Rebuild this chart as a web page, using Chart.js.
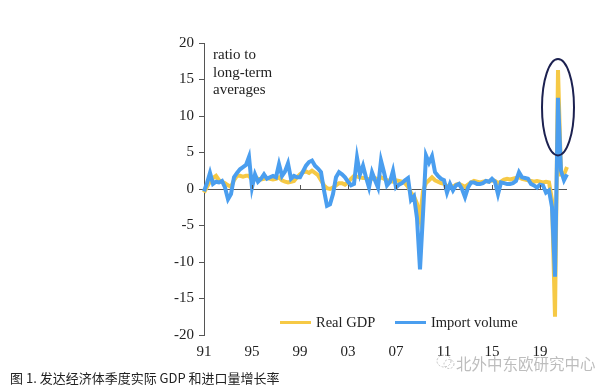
<!DOCTYPE html>
<html>
<head>
<meta charset="utf-8">
<script src="https://cdn.jsdelivr.net/npm/chart.js@4.4.1/dist/chart.umd.min.js"></script>
<style>
  body { margin: 0; background: #fff; }
  #wrap { position: relative; width: 612px; height: 391px; overflow: hidden; }
  canvas { position: absolute; left: 0; top: 0; }
  .serif { position: absolute; font-family: "Liberation Serif", "Times New Roman", serif; color: #222; }
  .swatch { position: absolute; height: 3px; }
</style>
</head>
<body>
<div id="wrap">
  <canvas id="chart" width="612" height="391"></canvas>

  <div class="serif" style="left:213px; top:46px; font-size:15px; line-height:17.5px;">ratio to<br>long-term<br>averages</div>

  <div class="swatch" style="left:280px; top:321px; width:31px; background:#F6C945;"></div>
  <div class="serif" style="left:316px; top:314px; font-size:14.5px;">Real GDP</div>
  <div class="swatch" style="left:395px; top:321px; width:31px; background:#4A9EEF;"></div>
  <div class="serif" style="left:431px; top:314px; font-size:14.5px;">Import volume</div>

  <div style="position:absolute; left:10px; top:368px; font-family:'Noto Sans CJK SC','Noto Sans',sans-serif; font-size:13px; color:#222;">图 1. 发达经济体季度实际 GDP 和进口量增长率</div>

  <svg style="position:absolute; left:436px; top:353px;" width="20" height="18">
    <ellipse cx="8" cy="8" rx="7" ry="6" fill="none" stroke="#c4c4c4" stroke-width="1" stroke-dasharray="2 1.5"/>
    <ellipse cx="13" cy="11" rx="5" ry="4.5" fill="none" stroke="#c4c4c4" stroke-width="1" stroke-dasharray="2 1.5"/>
  </svg>
  <div style="position:absolute; left:456px; top:352px; font-family:'Noto Sans CJK SC','Noto Sans',sans-serif; font-size:15.5px; color:#bdbdbd;">北外中东欧研究中心</div>
</div>

<script>
// quarterly, 1991Q1 .. 2021Q2
const YEARS = [1991, 1992, 1993, 1994, 1995, 1996, 1997, 1998, 1999, 2000, 2001, 2002, 2003, 2004, 2005,
               2006, 2007, 2008, 2009, 2010, 2011, 2012, 2013, 2014, 2015, 2016, 2017, 2018, 2019, 2020, 2021]
const QUARTERS = YEARS.flatMap(y => ["Q1", "Q2", "Q3", "Q4"].map(q => y + q)).slice(0, 122)

const realGdp = [
  -0.5, 0.3, 1.0, 1.5, 1.8, 1.2, 1.0, 0.8, 0.5, 0.3, 1.2, 1.8, 1.8, 1.7, 1.8, 1.8,
  1.3, 1.5, 1.4, 1.3, 1.4, 1.5, 1.4, 1.3, 1.4, 1.6, 1.2, 1.0, 0.9, 1.0, 1.1, 1.6,
  2.0, 2.3, 2.4, 2.2, 2.5, 2.2, 1.9, 1.2, 0.5, 0.1, 0.0, 0.2, 0.5, 0.8, 0.8, 0.6,
  0.9, 1.4, 1.8, 1.7, 1.6, 1.5, 1.5, 1.3, 1.4, 1.5, 1.3, 1.6, 1.4, 1.2, 1.1, 1.0,
  1.2, 1.1, 1.0, 0.8, 0.3, -0.5, -1.0, -2.0, -4.0, -0.3, 0.8, 1.2, 1.6, 1.2, 1.0, 0.8,
  0.7, 0.4, 0.5, 0.3, 0.6, 0.7, 0.5, 0.3, 0.6, 0.9, 1.1, 1.0, 0.9, 1.0, 1.1, 1.0,
  1.2, 1.1, 0.8, 1.0, 1.3, 1.4, 1.3, 1.4, 1.5, 1.6, 1.4, 1.3, 1.2, 1.1, 1.0, 1.1,
  1.0, 0.9, 1.0, 0.9, -1.5, -17.5, 16.3, 2.0, 2.0, 3.0
]

const importVolume = [
  -0.3, 0.8, 2.2, 0.7, 1.0, 0.9, 1.1, 0.2, -1.4, -0.7, 1.6, 2.2, 2.7, 3.0, 3.3, 4.4,
  0.2, 2.0, 1.0, 1.4, 2.0, 1.4, 1.6, 1.8, 1.6, 3.4, 1.8, 2.4, 3.5, 1.4, 1.8, 1.6,
  1.6, 2.4, 3.2, 3.7, 3.9, 3.2, 2.8, 2.3, -0.2, -2.3, -2.1, -0.7, 1.6, 2.3, 2.0, 1.6,
  1.0, 0.5, 0.7, 4.3, 2.0, 3.2, 1.6, 0.2, 2.3, 1.2, 0.2, 3.9, 2.3, 0.5, 1.0, 2.5,
  0.2, 0.6, 0.8, 1.2, 1.5, -1.5, -1.0, -4.0, -11.0, -3.4, 4.6, 3.6, 4.5, 2.3, 1.8, 1.4,
  1.2, -0.5, 0.7, -0.2, 0.5, 0.7, 0.0, -1.1, 0.2, 0.9, 0.9, 0.7, 0.7, 0.8, 1.1, 1.0,
  1.4, 1.0, -0.7, 0.9, 0.8, 0.7, 0.7, 0.8, 1.1, 2.3, 1.6, 1.5, 1.4, 0.7, 0.5, 0.2,
  0.6, 0.5, -0.5, -0.2, -2.5, -12.0, 12.5, 2.5, 1.2, 2.0
]

const Y_TICKS = [-20, -15, -10, -5, 0, 5, 10, 15, 20]
const X_LABEL_EVERY = 16   // one label every 4 years
const HIGHLIGHT = { index: 118, yCenter: 11.2, yBottom: 4.6, rx: 16 }

const AXIS = "#555"

const extras = {
  id: "extras",
  afterDraw(chart) {
    const { ctx, scales: { x, y } } = chart
    const y0 = y.getPixelForValue(0)
    ctx.save()
    // small ticks on the zero line
    ctx.strokeStyle = AXIS
    ctx.lineWidth = 1
    for (let i = X_LABEL_EVERY; i < QUARTERS.length; i += X_LABEL_EVERY) {
      const px = Math.round(x.getPixelForValue(i)) + 0.5
      ctx.beginPath()
      ctx.moveTo(px, y0)
      ctx.lineTo(px, y0 - 4)
      ctx.stroke()
    }
    // ellipse round the 2020 rebound
    const cx = x.getPixelForValue(HIGHLIGHT.index)
    const cy = y.getPixelForValue(HIGHLIGHT.yCenter)
    const ry = y.getPixelForValue(HIGHLIGHT.yBottom) - cy
    ctx.strokeStyle = "#1c2150"
    ctx.lineWidth = 2
    ctx.beginPath()
    ctx.ellipse(cx, cy, HIGHLIGHT.rx, ry, 0, 0, Math.PI * 2)
    ctx.stroke()
    ctx.restore()
  }
}

new Chart(document.getElementById("chart"), {
  type: "line",
  data: {
    labels: QUARTERS,
    datasets: [
      {
        label: "Real GDP",
        data: realGdp,
        borderColor: "#F6C945",
        borderWidth: 4,
        pointRadius: 0,
        tension: 0,
        order: 2
      },
      {
        label: "Import volume",
        data: importVolume,
        borderColor: "#4A9EEF",
        borderWidth: 4,
        pointRadius: 0,
        tension: 0,
        order: 1
      }
    ]
  },
  options: {
    responsive: false,
    animation: false,
    layout: { padding: { left: 0, right: 45, top: 43, bottom: 26 } },
    plugins: {
      legend: { display: false },
      tooltip: { enabled: false }
    },
    scales: {
      x: {
        offset: false,
        grid: { display: false, drawTicks: false },
        border: { display: false },
        afterFit: s => { s.height = 30 },
        ticks: {
          autoSkip: false,
          maxRotation: 0,
          padding: 8,
          color: "#222",
          font: { family: "'Liberation Serif', 'Times New Roman', serif", size: 15 },
          callback: (v, i) => i % X_LABEL_EVERY === 0 ? String(YEARS[i / 4]).slice(2) : null
        }
      },
      y: {
        min: -20,
        max: 20,
        afterFit: s => { s.width = 204 },
        afterBuildTicks: s => { s.ticks = Y_TICKS.map(v => ({ value: v })) },
        border: { display: true, color: AXIS, width: 1 },
        grid: {
          drawTicks: true,
          tickLength: 5,
          tickColor: AXIS,
          color: c => c.tick && c.tick.value === 0 ? AXIS : "transparent"
        },
        ticks: {
          padding: 5,
          color: "#222",
          font: { family: "'Liberation Serif', 'Times New Roman', serif", size: 15 }
        }
      }
    }
  },
  plugins: [extras]
})
</script>
</body>
</html>
